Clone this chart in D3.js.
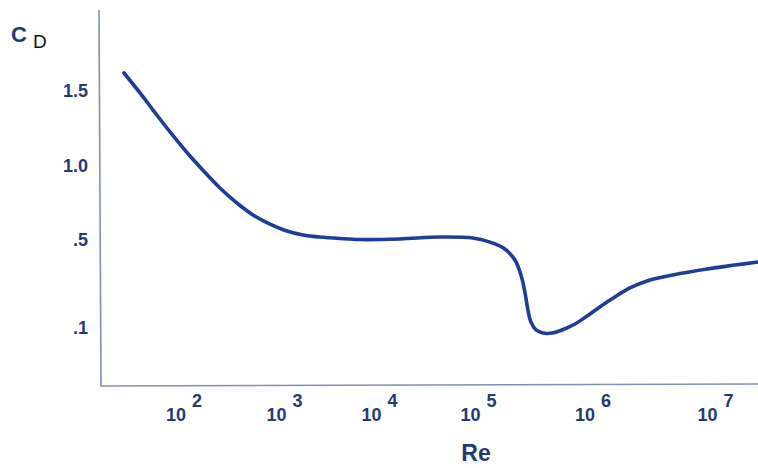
<!DOCTYPE html>
<html><head><meta charset="utf-8">
<script src="https://cdn.jsdelivr.net/npm/d3@7"></script>
<style>
html,body{margin:0;padding:0;background:#fff;}
svg{display:block;}
text{font-family:"Liberation Sans",Arial,sans-serif;}
</style></head>
<body>
<script>
// ---- data ----
const reValues = [25.3, 36.5, 49.2, 72.6, 107, 155, 228, 336, 486, 718, 1062, 1567, 2366, 3838, 6237,
  16100, 40800, 87900,
  134000, 170000, 208000, 235000, 255000, 270000, 287000, 318000, 366000, 439000, 536000, 697000, 942000,
  1.38e6, 2.0e6, 2.76e6, 4.5e6, 8.53e6, 1.44e7, 2.22e7];
const cdValues = [1.62, 1.487, 1.373, 1.227, 1.09, 0.97, 0.851, 0.75, 0.669, 0.608, 0.561, 0.534, 0.52, 0.51, 0.503,
  0.507, 0.52, 0.513,
  0.486, 0.459, 0.409, 0.341, 0.259, 0.182, 0.127, 0.091, 0.077, 0.077, 0.091, 0.118, 0.164,
  0.227, 0.282, 0.314, 0.341, 0.368, 0.386, 0.4];
const yTicks = [1.5, 1.0, 0.5, 0.1];
const yTickLabels = ["1.5", "1.0", ".5", ".1"];
const xTicks = [1e2, 1e3, 1e4, 1e5, 1e6, 1e7];
const xTickExps = ["2", "3", "4", "5", "6", "7"];

// ---- layout ----
const W = 758, H = 468;
const svg = d3.select("body").append("svg").attr("width", W).attr("height", H);

// schematic (non-uniform) axes: piecewise scales
const x = d3.scaleLog().domain(xTicks).range([184, 284.5, 379.5, 478.5, 593, 715.5]);
const y = d3.scaleLinear().domain([0.1, 0.5, 1.0, 1.5]).range([328, 240, 166, 91]);

const navy = "#233a78";

// axes lines
svg.append("path")
  .attr("d", "M99,10 L101,386 L758,384")
  .attr("fill", "none").attr("stroke", "#8290ad").attr("stroke-width", 1.6);

// y tick labels
svg.selectAll("text.ytick").data(yTicks).join("text")
  .attr("class", "ytick")
  .attr("x", 88).attr("y", d => y(d)).attr("dy", "0.36em")
  .attr("text-anchor", "end")
  .attr("font-size", 18).attr("font-weight", "bold").attr("fill", navy)
  .text((d, i) => yTickLabels[i]);

// x tick labels with superscripts
const xt = svg.selectAll("text.xtick").data(xTicks).join("text")
  .attr("class", "xtick")
  .attr("x", d => x(d) - 18).attr("y", 421)
  .attr("font-size", 18).attr("font-weight", "bold").attr("fill", navy);
xt.append("tspan").text("10");
xt.append("tspan").attr("dx", 6).attr("dy", -14).text((d, i) => xTickExps[i]);

// axis titles
svg.append("text").attr("x", 476).attr("y", 461).attr("text-anchor", "middle")
  .attr("font-size", 23).attr("font-weight", "bold").attr("fill", navy).text("Re");
const cd = svg.append("text").attr("x", 11).attr("y", 42);
cd.append("tspan").attr("font-size", 22).attr("font-weight", "bold").attr("fill", navy).text("C");
cd.append("tspan").attr("dx", 6).attr("dy", 6).attr("font-size", 19).attr("fill", "#111").text("D");

// curve
const pts = reValues.map((r, i) => [r, cdValues[i]]);
const line = d3.line().x(d => x(d[0])).y(d => y(d[1])).curve(d3.curveCatmullRom.alpha(0.5));
svg.append("path").datum(pts)
  .attr("d", line)
  .attr("fill", "none").attr("stroke", "#1e3c98").attr("stroke-width", 3.6)
  .attr("stroke-linecap", "round");
</script>
</body></html>
